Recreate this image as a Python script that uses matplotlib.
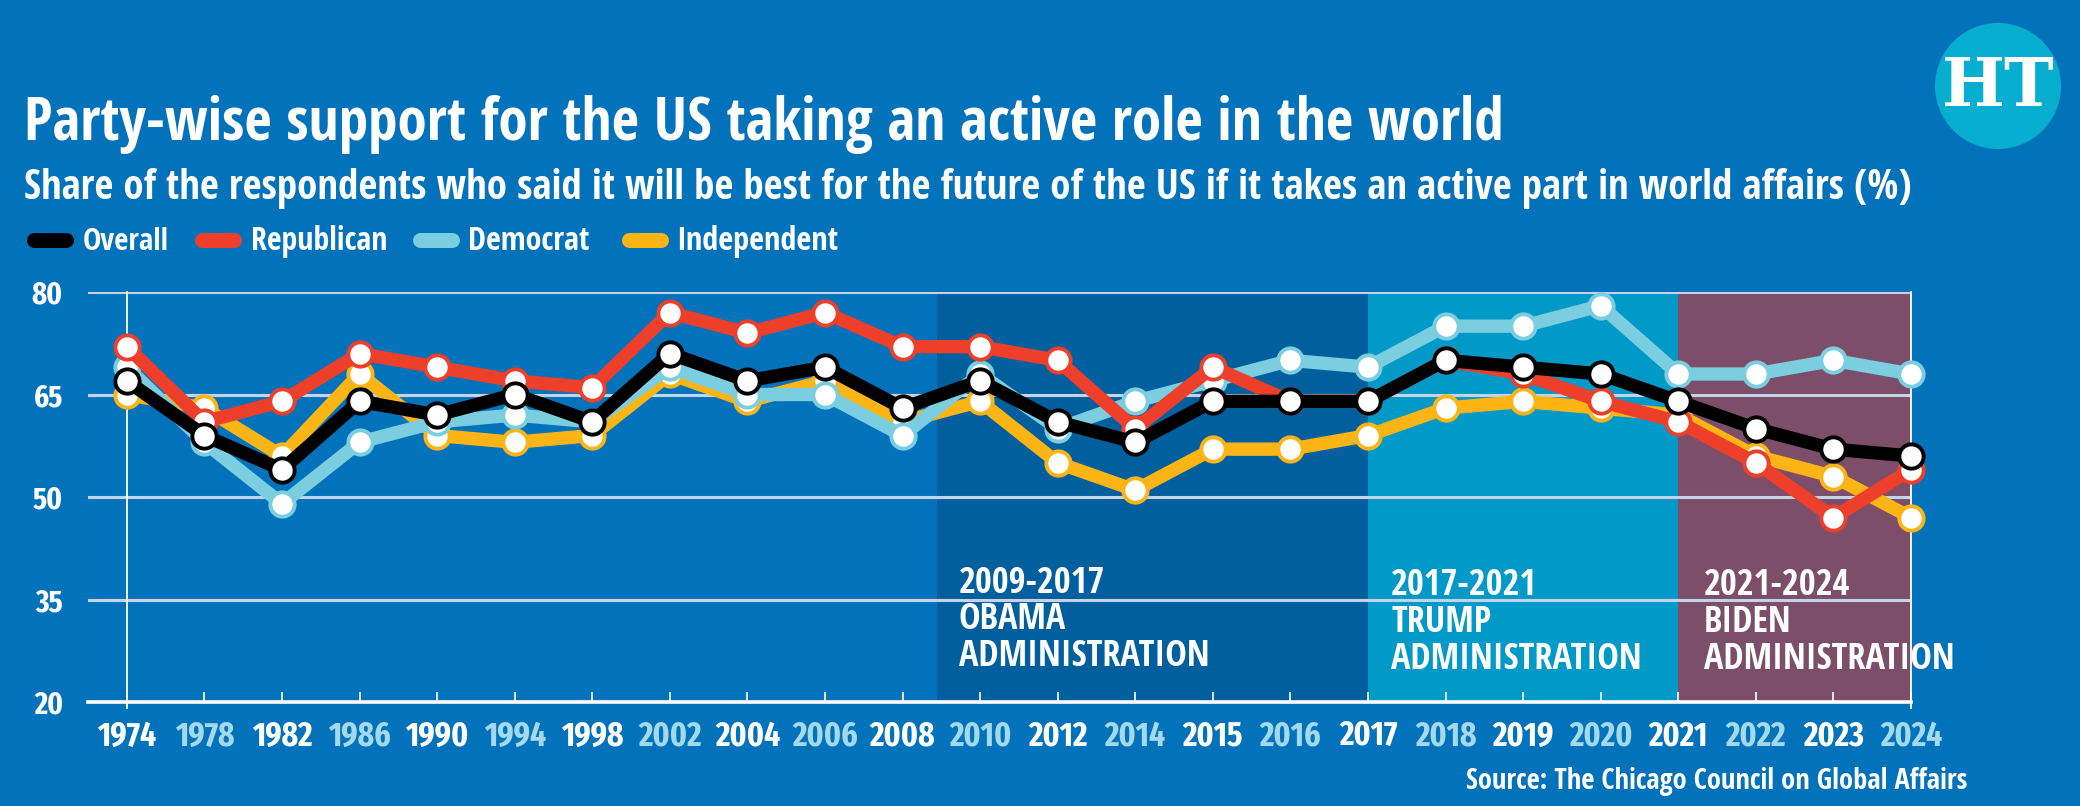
import matplotlib
matplotlib.use('Agg')
import matplotlib.pyplot as plt
from matplotlib import font_manager as fm
from matplotlib.font_manager import FontProperties
from matplotlib.textpath import TextPath
from matplotlib.lines import Line2D
from matplotlib.patches import Circle

# ---------------- data ----------------
years = ['1974', '1978', '1982', '1986', '1990', '1994', '1998', '2002', '2004', '2006',
         '2008', '2010', '2012', '2014', '2015', '2016', '2017', '2018', '2019', '2020',
         '2021', '2022', '2023', '2024']
overall = [67, 59, 54, 64, 62, 65, 61, 71, 67, 69, 63, 67, 61, 58, 64, 64, 64, 70, 69, 68, 64, 60, 57, 56]
republican = [72, 61, 64, 71, 69, 67, 66, 77, 74, 77, 72, 72, 70, 60, 69, 64, 64, 70, 68, 64, 61, 55, 47, 54]
democrat = [69, 58, 49, 58, 61, 62, 61, 69, 65, 65, 59, 68, 60, 64, 67, 70, 69, 75, 75, 78, 68, 68, 70, 68]
independent = [65, 63, 56, 68, 59, 58, 59, 68, 64, 67, 61, 64, 55, 51, 57, 57, 59, 63, 64, 63, 62, 56, 53, 47]
yticks = [20, 35, 50, 65, 80]
series_names = ['Overall', 'Republican', 'Democrat', 'Independent']
admin_labels = [('2009-2017', 'OBAMA', 'ADMINISTRATION'),
                ('2017-2021', 'TRUMP', 'ADMINISTRATION'),
                ('2021-2024', 'BIDEN', 'ADMINISTRATION')]
title = 'Party-wise support for the US taking an active role in the world'
subtitle = ('Share of the respondents who said it will be best for the future of the US '
            'if it takes an active part in world affairs (%)')
source = 'Source: The Chicago Council on Global Affairs'

# ---------------- style ----------------
BG = '#0273BB'
C_OVERALL = '#000000'
C_REP = '#EE3F2B'
C_DEM = '#7BCDE0'
C_IND = '#FDB515'
C_OBAMA = '#005F9C'
C_TRUMP = '#0099C8'
C_BIDEN = '#7C4E69'
C_GRID = '#C4D3E6'
C_LIGHTLABEL = '#A3D9EA'

W, H = 2080, 806


def available(fam):
    try:
        fm.findfont(FontProperties(family=fam, weight='bold'), fallback_to_default=False)
        return True
    except Exception:
        return False


def ratio(fam, s):
    prop = FontProperties(family=fam, weight='bold')
    w = TextPath((0, 0), s, size=1, prop=prop).get_extents().width
    c = TextPath((0, 0), 'H', size=1, prop=prop).get_extents().height
    return w / c


def choose(cands, s, target):
    best, bd = 'DejaVu Sans', 1e9
    for fam in cands:
        if not available(fam):
            continue
        d = abs(ratio(fam, s) - target)
        if d < bd:
            best, bd = fam, d
    return best


CANDS = ['Fira Sans Extra Condensed', 'Fira Sans Condensed', 'PT Sans Narrow',
         'Asap Condensed', 'Open Sans Condensed']
TEXTFONT = choose(CANDS, title, 1479 / 42)
XNUMFONT = choose(CANDS + ['Liberation Sans', 'Fira Sans'], '1974', 59 / 26)
YNUMFONT = XNUMFONT

fig = plt.figure(figsize=(W / 100, H / 100), dpi=100, facecolor=BG)
renderer = fig.canvas.get_renderer()


def fx(x):
    return x / W


def fy(y):
    return 1 - y / H


def fit(t, target):
    w = t.get_window_extent(renderer).width
    t.set_fontsize(t.get_fontsize() * target / w)
    return t


def fitted_size(s, fam, target):
    t = fig.text(0, 0, s, fontfamily=fam, fontweight='bold', fontsize=20)
    fit(t, target)
    fs = t.get_fontsize()
    t.remove()
    return fs


# ---------------- axes ----------------
x_left, x_right = 88, 1911
y_top, y_bot = 292, 702
ax = fig.add_axes([fx(x_left), fy(y_bot), (x_right - x_left) / W, (y_bot - y_top) / H])
ax.set_facecolor('none')
n = len(years)
ax.set_xlim(-0.5, n - 1)
ax.set_ylim(20, 80)
for s in ax.spines.values():
    s.set_visible(False)

# administration shading
ax.axvspan(10.45, 16, color=C_OBAMA, zorder=0, lw=0)
ax.axvspan(16, 20, color=C_TRUMP, zorder=0, lw=0)
ax.axvspan(20, 23, color=C_BIDEN, zorder=0, lw=0)

# gridlines
for v in yticks[1:]:
    ax.axhline(v, color=C_GRID, lw=2.2, zorder=1)
ax.axhline(20, color='white', lw=2.6, zorder=1, clip_on=False)
ax.axvline(0, ymin=-0.015, ymax=1.0, color='white', lw=1.3, zorder=1, clip_on=False)
ax.axvline(n - 1, ymin=-0.015, ymax=1.0, color='white', lw=1.3, zorder=1, clip_on=False)

# lines
x = list(range(n))
LW, MS, MEW = 9.6, 17.5, 2.8
for vals, col, z in [(independent, C_IND, 3), (democrat, C_DEM, 4),
                     (republican, C_REP, 5), (overall, C_OVERALL, 6)]:
    ax.plot(x, vals, color=col, lw=LW, marker='o', ms=MS, mfc='white', mec=col, mew=MEW,
            zorder=z, clip_on=False, solid_joinstyle='miter')

# ticks
xfs = fitted_size('1974', XNUMFONT, 59)
ax.set_xticks(x)
ax.set_xticklabels(years, fontfamily=XNUMFONT, fontweight='bold', fontsize=xfs)
for i, lab in enumerate(ax.get_xticklabels()):
    lab.set_color('white' if i % 2 == 0 else C_LIGHTLABEL)
ax.tick_params(axis='x', direction='in', length=7, width=1.2, color='white', pad=12.5)
yfs = fitted_size('80', YNUMFONT, 31)
ax.set_yticks(yticks)
ax.set_yticklabels([str(v) for v in yticks], fontfamily=YNUMFONT, fontweight='bold',
                   fontsize=yfs, color='white')
ax.tick_params(axis='y', length=0, pad=18)

# ---------------- administration labels ----------------
admin_pos = [(959, [593, 629, 666]), (1391, [595, 632, 669]), (1704, [595, 632, 669])]
admin_fs = fitted_size('ADMINISTRATION', TEXTFONT, 251)
for (lx, bases), lines in zip(admin_pos, admin_labels):
    for b, line in zip(bases, lines):
        fig.text(fx(lx), fy(b), line, fontfamily=TEXTFONT, fontweight='bold', fontsize=admin_fs,
                 color='white', va='baseline', ha='left', zorder=10)

# ---------------- titles ----------------
t = fig.text(fx(24), fy(140), title, fontfamily=TEXTFONT, fontweight='bold', fontsize=40,
             color='white', va='baseline', ha='left')
fit(t, 1479)
t = fig.text(fx(24), fy(199), subtitle, fontfamily=TEXTFONT, fontweight='bold', fontsize=28,
             color='white', va='baseline', ha='left')
fit(t, 1888)

# ---------------- legend ----------------
leg_items = [(26, 83, 86), (194, 251, 137), (412, 468, 122), (621, 676, 163)]
for (px0, tx0, tw), name, col in zip(leg_items, series_names, [C_OVERALL, C_REP, C_DEM, C_IND]):
    r = 7.5
    fig.add_artist(Line2D([fx(px0 + r), fx(px0 + 47 - r)], [fy(240), fy(240)], color=col,
                          lw=15 * 0.72, solid_capstyle='round'))
    tt = fig.text(fx(tx0), fy(250), name, fontfamily=TEXTFONT, fontweight='bold', fontsize=24,
                  color='white', va='baseline', ha='left')
    fit(tt, tw)

# ---------------- source ----------------
s = fig.text(fx(1967), fy(789), source, fontfamily=TEXTFONT, fontweight='bold', fontsize=20,
             color='white', va='baseline', ha='right')
fit(s, 502)

# ---------------- logo ----------------
fig.add_artist(Circle((19.98, (H - 86) / 100), 0.63, transform=fig.dpi_scale_trans,
                      color='#08AECF', lw=0))
fig.text(fx(1998), fy(88), 'HT', fontfamily='DejaVu Serif', fontweight='bold', fontsize=48,
         color='white', ha='center', va='center')

fig.savefig('out.png', dpi=100, facecolor=BG)
